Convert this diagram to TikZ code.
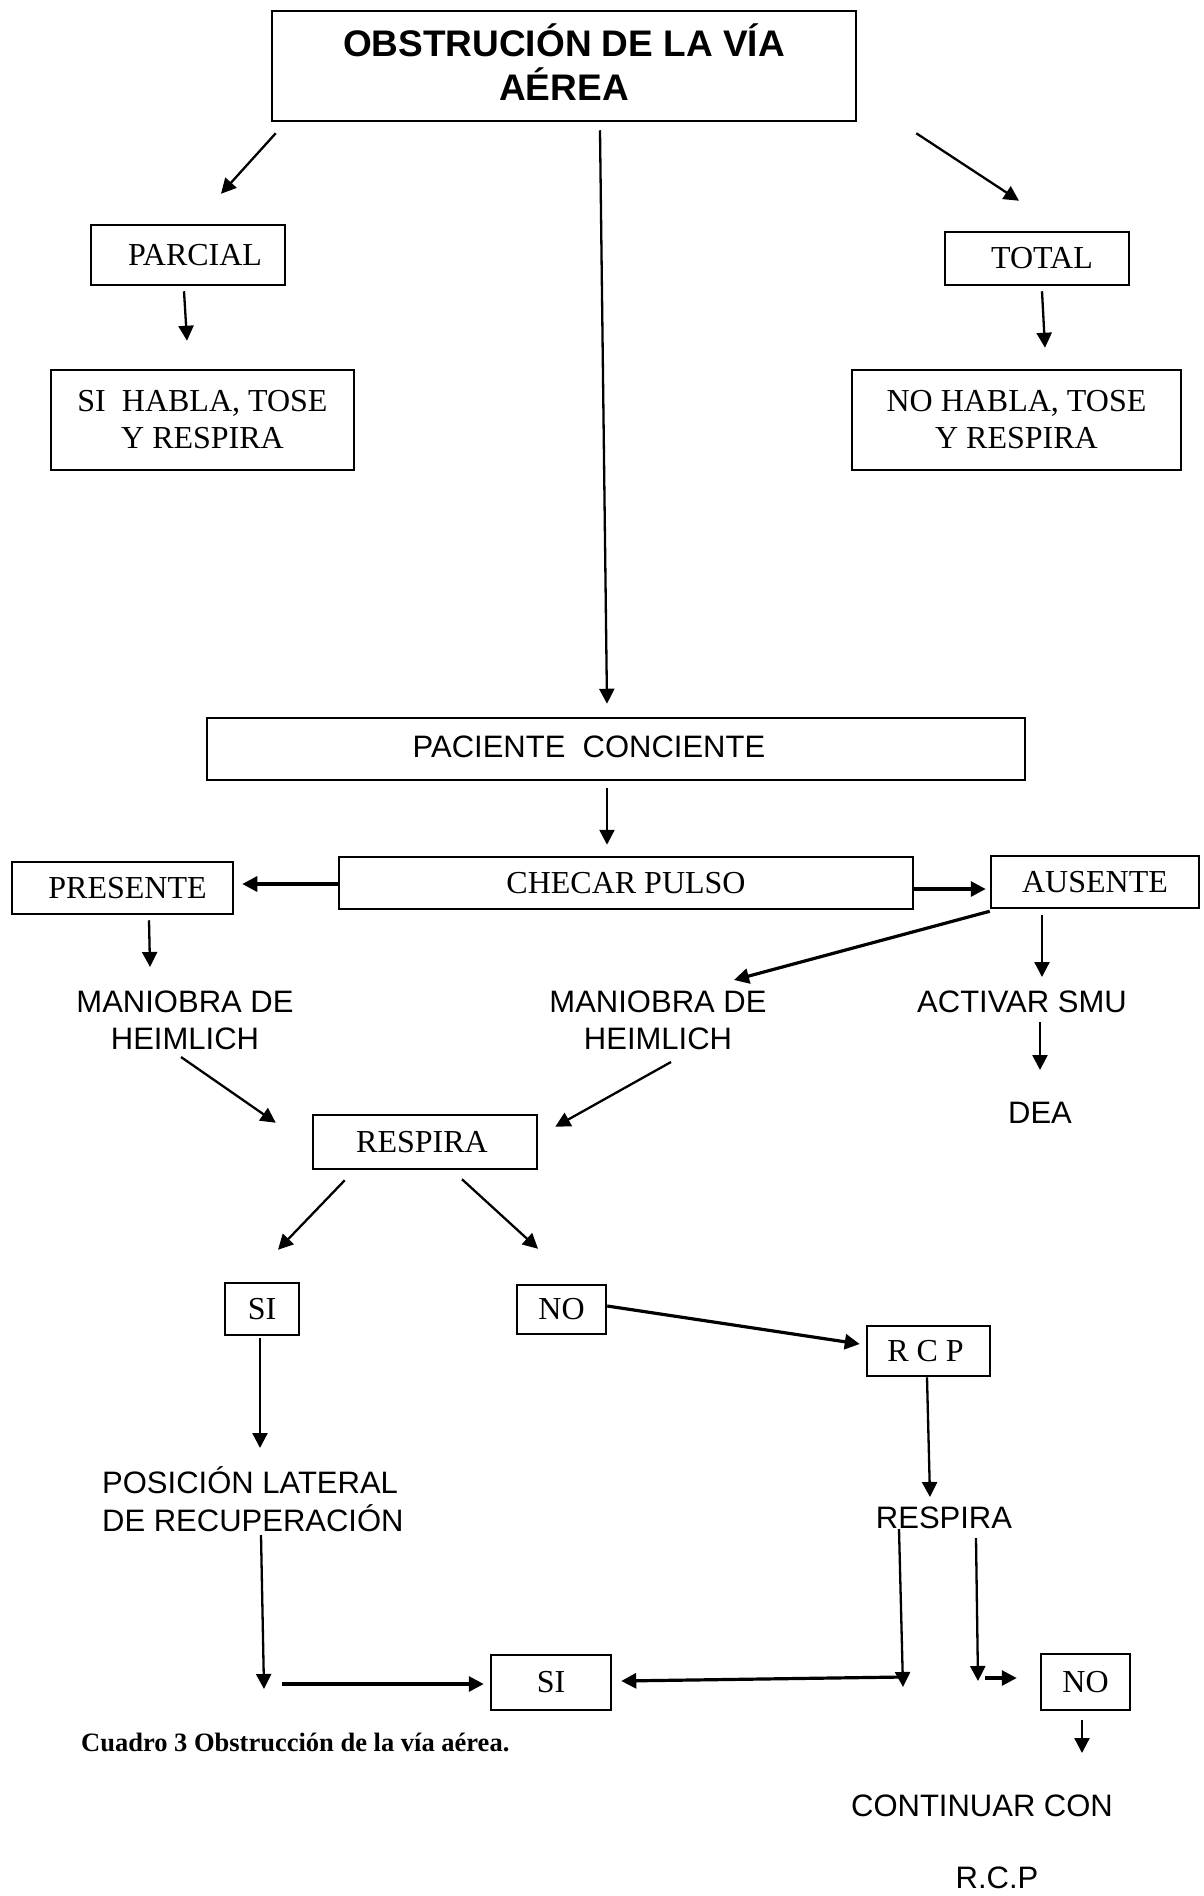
\documentclass[tikz,border=0pt]{standalone}
\usepackage{fontspec}
\setmainfont{Liberation Serif}
\newfontfamily\arialf{Liberation Sans}
\usetikzlibrary{arrows.meta,calc}
\tikzset{
  box/.style={draw, line width=2.5pt, inner sep=0pt, align=center, font=\fontsize{32}{37}\selectfont},
  sans/.style={inner sep=0pt, align=center, font=\arialf\fontsize{31}{37}\selectfont},
  arr/.style={line width=2.3pt, -{Triangle[length=15pt,width=15pt]}},
  arrthick/.style={line width=3.2pt, -{Triangle[length=15pt,width=15pt]}},
}
\begin{document}
\begin{tikzpicture}[x=1pt,y=-1pt]
\useasboundingbox[fill=white] (0,0) rectangle (1203,1896);

% boxes
\node[box, minimum width=584, minimum height=110, font=\arialf\bfseries\fontsize{37}{43.5}\selectfont] (title) at (564,66) {OBSTRUCIÓN DE LA VÍA\\AÉREA\rule[-8pt]{0pt}{8pt}};
\node[box, minimum width=194, minimum height=60] (parcial) at (188,255) {\hspace*{14pt}PARCIAL};
\node[box, minimum width=303, minimum height=100] (sihabla) at (202.5,420) {SI\ \ HABLA, TOSE\\Y RESPIRA};
\node[box, minimum width=184, minimum height=53] (total) at (1037,258.5) {\hspace*{10pt}TOTAL};
\node[box, minimum width=329, minimum height=100] (nohabla) at (1016.5,420) {NO HABLA, TOSE\\Y RESPIRA};
\node[box, minimum width=818, minimum height=62, font=\arialf\fontsize{31}{37}\selectfont] (paciente) at (616,749) {PACIENTE\ \ CONCIENTE\hspace*{54pt}\rule[-4pt]{0pt}{4pt}};
\node[box, minimum width=574, minimum height=52] (checar) at (626,883) {CHECAR PULSO};
\node[box, minimum width=221, minimum height=52] (presente) at (122.5,888) {\hspace*{10pt}PRESENTE};
\node[box, minimum width=208, minimum height=52] (ausente) at (1095,882) {AUSENTE};
\node[box, minimum width=224, minimum height=54] (respira) at (425,1142) {RESPIRA\hspace*{6pt}};
\node[box, minimum width=74, minimum height=52] (si1) at (262,1309) {SI};
\node[box, minimum width=89, minimum height=49] (no1) at (561.5,1309.5) {NO};
\node[box, minimum width=123, minimum height=50] (rcp) at (928.5,1351) {R C P\hspace*{6pt}};
\node[box, minimum width=120, minimum height=55] (si2) at (551,1682.5) {SI};
\node[box, minimum width=89, minimum height=56] (no2) at (1085.5,1682) {NO};

% plain texts
\node[sans] (maniobra1) at (185,1020) {MANIOBRA DE\\HEIMLICH};
\node[sans] (maniobra2) at (658,1020) {MANIOBRA DE\\HEIMLICH};
\node[sans] (activar) at (1022,1002) {ACTIVAR SMU};
\node[sans] (dea) at (1040,1113) {DEA};
\node[sans, align=left, anchor=west, font=\arialf\fontsize{31}{38}\selectfont] (posicion) at (102,1499) {POSICIÓN LATERAL\\DE RECUPERACIÓN};
\node[sans] (respira2) at (944,1518) {RESPIRA};
\node[sans] (continuar) at (982,1806) {CONTINUAR CON};
\node[sans] (rcp2) at (997,1878) {R.C.P};
\node[inner sep=0pt, anchor=west, font=\bfseries\fontsize{26.5}{30}\selectfont] (caption) at (81,1742) {Cuadro 3 Obstrucción de la vía aérea.};

% free-end coordinates
\coordinate (cpos) at ($(posicion.west)+(162,190)$);
\coordinate (cl) at ($(respira2.center)+(-41,169)$);
\coordinate (cr) at ($(respira2.center)+(34,163)$);

% connectors
\draw[arr] ($(title.south west)+(5,11)$) -- ($(parcial.north)+(33,-30)$);
\draw[arr] ($(title.south)+(36,8)$) -- ($(paciente.north)+(-9,-13)$);
\draw[arr] ($(title.south east)+(59,11)$) -- ($(total.north)+(-18,-30)$);
\draw[arr] ($(parcial.south)+(-4,5)$) -- ($(sihabla.north)+(-15.5,-28)$);
\draw[arr] ($(total.south)+(5,5)$) -- ($(nohabla.north)+(28.5,-21)$);
\draw[arr] ($(paciente.south)+(-9,7)$) -- ($(checar.north)+(-19,-11)$);
\draw[arrthick] ($(checar.west)+(0,1)$) -- ($(presente.east)+(8,-4)$);
\draw[arrthick] ($(checar.east)+(0,6)$) -- ($(ausente.west)+(-4,7)$);
\draw[arr] ($(presente.south)+(26.5,5)$) -- ($(maniobra1.center)+(-35,-53)$);
\draw[arrthick] ($(ausente.south west)+(0,2)$) -- ($(maniobra2.center)+(76,-40)$);
\draw[arr] ($(ausente.south)+(-53,6)$) -- ($(activar.center)+(20,-25)$);
\draw[arr] ($(activar.center)+(18,20)$) -- ($(dea.center)+(0,-43)$);
\draw[arr] ($(maniobra1.center)+(-4,37)$) -- ($(respira.north west)+(-36,9)$);
\draw[arr] ($(maniobra2.center)+(13,42)$) -- ($(respira.north east)+(17,13)$);
\draw[arr] ($(respira.south west)+(33,10)$) -- ($(si1.north)+(16,-32)$);
\draw[arr] ($(respira.south)+(37,9)$) -- ($(no1.north)+(-23.5,-35)$);
\draw[arrthick] ($(no1.east)+(0,-3.5)$) -- ($(rcp.west)+(-6,-7)$);
\draw[arr] ($(si1.south)+(-2,2)$) -- ($(posicion.west)+(158,-51)$);
\draw[arr] ($(rcp.south)+(-1.5,0)$) -- ($(respira2.center)+(-14,-21)$);
\draw[arr] ($(posicion.west)+(159,36)$) -- (cpos);
\draw[arrthick] ($(cpos)+(18,-5)$) -- ($(si2.west)+(-6,1.5)$);
\draw[arr] ($(respira2.center)+(-45,11)$) -- (cl);
\draw[arrthick] ($(cl)+(0,-10)$) -- ($(si2.east)+(9,-1.5)$);
\draw[arr] ($(respira2.center)+(32,20)$) -- (cr);
\draw[arrthick] ($(cr)+(7,-3)$) -- ($(no2.west)+(-23,-4)$);
\draw[arr] ($(no2.south)+(-3.5,9)$) -- ($(continuar.center)+(100,-53)$);
\end{tikzpicture}
\end{document}
